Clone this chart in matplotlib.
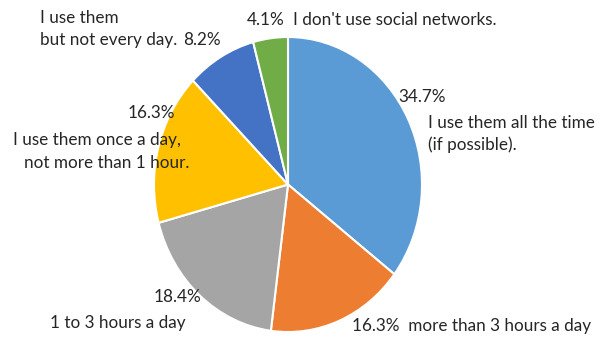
import matplotlib
matplotlib.use("Agg")
import matplotlib.pyplot as plt

categories = ["I use them all the time\n(if possible).",
              "more than 3 hours a day",
              "1 to 3 hours a day",
              "I use them once a day,\nnot more than 1 hour.",
              "I use them\nbut not every day.",
              "I don't use social networks."]
values = [34.7, 16.3, 18.4, 16.3, 8.2, 4.1]
pct_labels = ["34.7%", "16.3%", "18.4%", "16.3%", "8.2%", "4.1%"]
colors = ["#5B9BD5", "#ED7D31", "#A5A5A5", "#FFC000", "#4472C4", "#70AD47"]

W, H = 603, 350
fig = plt.figure(figsize=(W / 100, H / 100), dpi=100)
plt.rcParams['font.family'] = ['Lato', 'DejaVu Sans']

cx, cy, rx, ry = 288, 184.5, 134, 147.5
ax = fig.add_axes([(cx - rx) / W, (H - cy - ry) / H, 2 * rx / W, 2 * ry / H])
ax.pie(values, colors=colors, startangle=90, counterclock=False,
       wedgeprops=dict(edgecolor="white", linewidth=1.5))
ax.set_aspect("auto")
ax.set_xlim(-1, 1)
ax.set_ylim(-1, 1)
ax.axis("off")

fs = 12.3
tc = "#262626"

def t(x, y, s, ha="left"):
    fig.text(x / W, 1 - y / H, s, ha=ha, va="center", fontsize=fs, color=tc)

# blue
t(398, 97, pct_labels[0])
t(428, 123, categories[0].split("\n")[0])
t(428, 145, categories[0].split("\n")[1])
# orange
t(352, 326, pct_labels[1] + "  " + categories[1])
# gray
t(154, 297, pct_labels[2])
t(50, 323, categories[2])
# yellow
t(128, 113, pct_labels[3])
t(13, 140, categories[3].split("\n")[0])
t(24, 163, categories[3].split("\n")[1])
# dark blue
t(40, 18, categories[4].split("\n")[0])
t(40, 40, categories[4].split("\n")[1])
t(183, 40, pct_labels[4])
# green
t(247, 20, pct_labels[5])
t(293, 20, categories[5])

fig.savefig("out.png", dpi=100)
